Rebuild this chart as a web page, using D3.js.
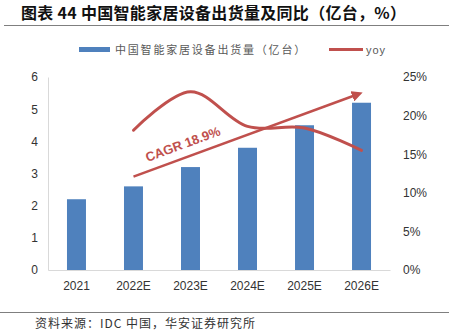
<!DOCTYPE html>
<html>
<head>
<meta charset="utf-8">
<script src="https://cdn.jsdelivr.net/npm/d3@7"></script>
<style>
  html, body { margin: 0; padding: 0; background: #fff; }
  svg { display: block; }
</style>
</head>
<body>
<svg width="449" height="335"></svg>
<script>
// shipments (100m units) and yoy growth (%)
const years = ['2021', '2022E', '2023E', '2024E', '2025E', '2026E'];
const shipments = [2.2, 2.6, 3.2, 3.8, 4.5, 5.2];
const yoyYears = ['2022E', '2023E', '2024E', '2025E', '2026E'];
const yoy = [18.1, 23.1, 18.6, 18.4, 15.5];
const leftTicks = [0, 1, 2, 3, 4, 5, 6];
const rightTicks = [0, 5, 10, 15, 20, 25];
// trend arrow: start/end as [category, yoy-axis %]
const cagrFrom = ['2022E', 12.1];
const cagrTo = ['2026E', 22.8];
const cagrLabel = 'CAGR 18.9%';

const BLUE = '#4F81BD';
const RED = '#C0504D';
const CJK = '"Noto Sans CJK SC", "Noto Sans", sans-serif';
const LATIN = '"Liberation Sans", Arial, sans-serif';

const svg = d3.select('svg');
const plot = { left: 48, right: 390, top: 77, bottom: 270 };

const x = d3.scaleBand().domain(years).range([plot.left, plot.right]).paddingInner(0.667).paddingOuter(0.333);
const y = d3.scaleLinear().domain([0, 6]).range([plot.bottom, plot.top]);
const y2 = d3.scaleLinear().domain([0, 25]).range([plot.bottom, plot.top]);
const cx = (d) => x(d) + x.bandwidth() / 2;

// title + rule
svg.append('text')
  .attr('x', 21).attr('y', 19)
  .attr('font-family', CJK).attr('font-weight', 700).attr('font-size', 16)
  .attr('letter-spacing', 0.3)
  .attr('fill', '#111')
  .text('图表 44 中国智能家居设备出货量及同比（亿台，%）');
svg.append('line')
  .attr('x1', 4).attr('x2', 449).attr('y1', 25.5).attr('y2', 25.5)
  .attr('stroke', '#7f7f7f').attr('stroke-width', 1);

// legend
const legend = svg.append('g').attr('font-family', CJK).attr('font-size', 11).attr('fill', '#595959');
legend.append('rect').attr('x', 79).attr('y', 47).attr('width', 31).attr('height', 5).attr('fill', BLUE);
legend.append('text').attr('x', 115).attr('y', 54).attr('letter-spacing', 1.8)
  .text('中国智能家居设备出货量（亿台）');
legend.append('line').attr('x1', 329).attr('x2', 363).attr('y1', 49.5).attr('y2', 49.5)
  .attr('stroke', RED).attr('stroke-width', 3);
legend.append('text').attr('x', 366).attr('y', 54).attr('font-family', LATIN).attr('letter-spacing', 1).text('yoy');

// axes
const leftAxis = svg.append('g')
  .attr('transform', `translate(${plot.left},0)`)
  .call(d3.axisLeft(y).tickValues(leftTicks).tickFormat(d3.format('d')).tickSize(0).tickPadding(10));
const rightAxis = svg.append('g')
  .attr('transform', `translate(${plot.right},0)`)
  .call(d3.axisRight(y2).tickValues(rightTicks).tickFormat((d) => d + '%').tickSize(0).tickPadding(13));
rightAxis.select('.domain').remove();
const bottomAxis = svg.append('g')
  .attr('transform', `translate(0,${plot.bottom})`)
  .call(d3.axisBottom(x).tickSize(0).tickPadding(11));

[leftAxis, rightAxis, bottomAxis].forEach((a) => {
  a.selectAll('text').attr('font-family', LATIN).attr('font-size', 12).attr('fill', '#333');
});
leftAxis.select('.domain').attr('stroke', '#d9d9d9');
bottomAxis.select('.domain').attr('stroke', '#d9d9d9');

// bars
svg.append('g').selectAll('rect')
  .data(shipments)
  .join('rect')
    .attr('x', (d, i) => x(years[i]))
    .attr('y', (d) => y(d))
    .attr('width', x.bandwidth())
    .attr('height', (d) => y(0) - y(d))
    .attr('fill', BLUE);

// yoy line, smoothed
const line = d3.line().curve(d3.curveCatmullRom.alpha(0.5))
  .x((d, i) => cx(yoyYears[i])).y((d) => y2(d));
svg.append('path')
  .attr('d', line(yoy))
  .attr('fill', 'none').attr('stroke', RED).attr('stroke-width', 3)
  .attr('stroke-linecap', 'round');

// CAGR arrow
const ax1 = cx(cagrFrom[0]), ay1 = y2(cagrFrom[1]);
const ax2 = cx(cagrTo[0]) - 3, ay2 = y2(cagrTo[1]);
const ang = Math.atan2(ay2 - ay1, ax2 - ax1) * 180 / Math.PI;
svg.append('defs').append('marker')
  .attr('id', 'head').attr('viewBox', '0 0 10 10')
  .attr('refX', 6).attr('refY', 5)
  .attr('markerWidth', 4.4).attr('markerHeight', 4.4)
  .attr('orient', 'auto')
  .append('path').attr('d', 'M0,0 L10,5 L0,10 Z').attr('fill', RED);
svg.append('line')
  .attr('x1', ax1).attr('y1', ay1).attr('x2', ax2).attr('y2', ay2)
  .attr('stroke', RED).attr('stroke-width', 2.5)
  .attr('marker-end', 'url(#head)');

const t = 0.24;
svg.append('text')
  .attr('transform', `translate(${ax1 + (ax2 - ax1) * t},${ay1 + (ay2 - ay1) * t}) rotate(${ang})`)
  .attr('x', 0).attr('y', -9)
  .attr('text-anchor', 'middle')
  .attr('font-family', LATIN).attr('font-weight', 700).attr('font-size', 13)
  .attr('fill', RED)
  .text(cagrLabel);

// footer
svg.append('line')
  .attr('x1', 0).attr('x2', 449).attr('y1', 312.5).attr('y2', 312.5)
  .attr('stroke', '#7f7f7f').attr('stroke-width', 1);
svg.append('text')
  .attr('x', 35).attr('y', 328)
  .attr('font-family', CJK).attr('font-size', 12).attr('letter-spacing', 1)
  .attr('fill', '#333')
  .text('资料来源：IDC 中国，华安证券研究所');
</script>
</body>
</html>
